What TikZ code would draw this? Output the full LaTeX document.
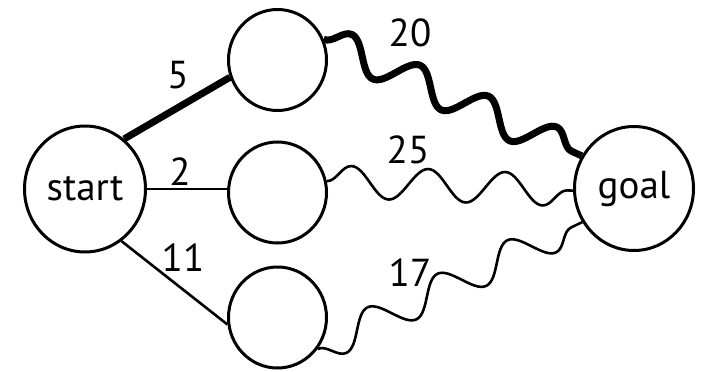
\documentclass[tikz,border=0pt]{standalone}
\usepackage{fontspec}
\setmainfont{PT Sans}
\usetikzlibrary{decorations.pathmorphing,shapes.geometric}
\begin{document}
\begin{tikzpicture}[x=1pt,y=-1pt,
  every node/.style={font=\fontsize{39}{42}\selectfont, inner sep=0pt},
  bignode/.style={ellipse, draw, line width=3pt, minimum width=121pt, minimum height=126pt},
  smallnode/.style={ellipse, draw, line width=3pt, minimum width=98pt, minimum height=101pt},
  edgeline/.style={line width=2.6pt},
  bestline/.style={line width=7pt},
  wave/.style={decorate, decoration={snake, segment length=#1, amplitude=16pt}},
  wavem/.style={decorate, decoration={snake, segment length=#1, amplitude=16pt, mirror}}
]
\useasboundingbox (0,0) rectangle (702,372);
\node[bignode] (start) at (85,189) {start};
\node[smallnode] (top) at (277.5,60) {};
\node[smallnode] (mid) at (277.5,192.5) {};
\node[smallnode] (bot) at (277.5,317.5) {};
\node[bignode, minimum width=119pt, minimum height=124pt] (goal) at (634,188.5) {goal};

\draw[bestline] (start.52) -- (top.200);
\draw[edgeline] (start.east) -- (start.east -| mid.west);
\draw[edgeline] (start.-55) -- (bot.188);

\draw[bestline, wave=75pt] (top.24) -- (goal.148);
\draw[edgeline, wave=77pt] (mid.13) -- (goal.182);
\draw[edgeline, wavem=77.5pt] (bot.-38) -- (goal.213);

\node (l5) at (178,75) {5};
\node (l2) at (180,172) {2};
\node (l11) at (183,258) {11};
\node (l20) at (410,33) {20};
\node (l25) at (408,150) {25};
\node (l17) at (410,273) {17};
\end{tikzpicture}
\end{document}
